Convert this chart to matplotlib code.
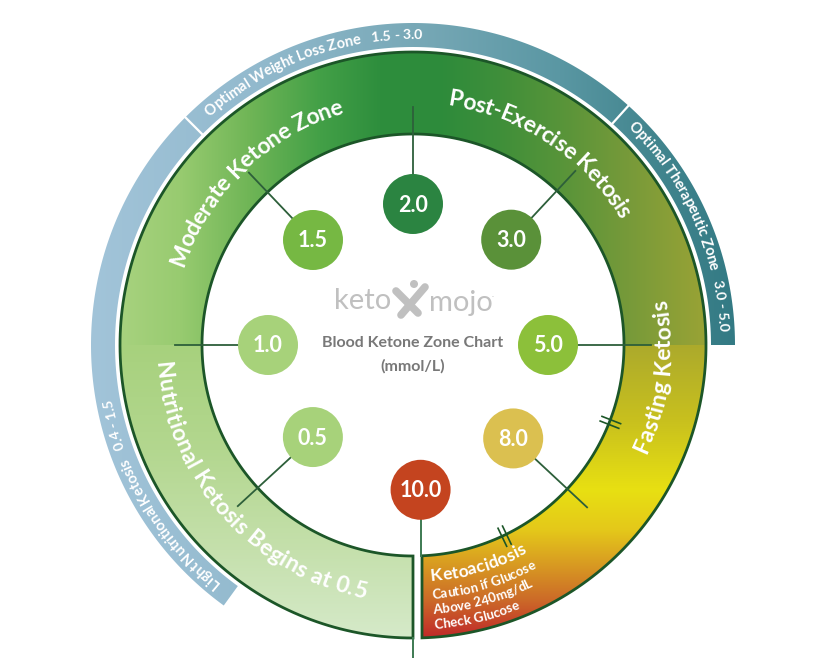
import numpy as np
import matplotlib
matplotlib.use("Agg")
import matplotlib.pyplot as plt
import matplotlib.colors as mcolors
from matplotlib.patches import Polygon, Circle
from matplotlib.font_manager import FontProperties
from matplotlib.textpath import text_to_path

W, H = 816, 658
CX, CY = 413, H - 345          # centre of the ring (data coords, y up)
R_IN, R_OUT = 211, 293         # main ring
B_IN, B_OUT = 298, 322         # outer blue band
DARK = "#1c5628"

# ---- chart content ----
levels = ["2.0", "1.5", "3.0", "1.0", "5.0", "0.5", "8.0", "10.0"]
level_angle = [90, 133.6, 47, 180, 0, 222.6, -43, -87]
level_radius = [141, 145, 144, 145, 135, 136, 137, 145]
level_color = ["#2b8441", "#76b843", "#5a9139", "#a7d27a",
               "#8cc03a", "#a7d27a", "#dbc050", "#c4441f"]

zones = ["Moderate Ketone Zone", "Post-Exercise Ketosis",
         "Fasting Ketosis", "Nutritional Ketosis Begins at 0.5"]
zone_angle = [134, 56.5, -7.5, 221.5]
zone_dir = ["cw", "cw", "ccw", "ccw"]

band_names = ["Optimal Weight Loss Zone", "Optimal Therapeutic Zone",
              "Light Nutritional Ketosis"]
band_ranges = ["1.5 - 3.0", "3.0 - 5.0", "0.4 - 1.5"]
band_angle = [110, 24, 210.5]
band_splits = [135, 48]

acid_lines = ["Ketoacidosis", "Caution if Glucose", "Above 240mg/dL", "Check Glucose"]
acid_radius = [231, 250, 265, 280]
acid_size = [12.5, 9.5, 9.5, 9.5]

break_marks = [-21.4, -64.4]

fig = plt.figure(figsize=(W / 100, H / 100), dpi=100)
ax = fig.add_axes([0, 0, 1, 1])
ax.set_xlim(0, W)
ax.set_ylim(0, H)
ax.axis("off")


def arc(r, a0, a1, n=300):
    t = np.radians(np.linspace(a0, a1, n))
    return np.column_stack([CX + r * np.cos(t), CY + r * np.sin(t)])


def sector(r0, r1, a0, a1, b0=None, b1=None):
    b0 = a0 if b0 is None else b0
    b1 = a1 if b1 is None else b1
    return np.vstack([arc(r1, a0, a1), arc(r0, b1, b0)])


def gradient(verts, pos, cols, axis, z=1):
    patch = Polygon(verts, closed=True, fc="none", ec="none")
    ax.add_patch(patch)
    rgb = np.array([mcolors.to_rgb(c) for c in cols])
    n = W if axis == "x" else H
    t = np.arange(n) + 0.5
    line = np.stack([np.interp(t, pos, rgb[:, k]) for k in range(3)], -1)
    img = line[None, :, :].repeat(2, 0) if axis == "x" else line[:, None, :].repeat(2, 1)
    im = ax.imshow(img, extent=[0, W, 0, H], origin="upper", aspect="auto",
                   interpolation="bilinear", zorder=z)
    im.set_clip_path(patch)


def adv(s, fp):
    if not s:
        return 0.0
    w1 = text_to_path.get_text_width_height_descent(s + "l", fp, ismath=False)[0]
    w0 = text_to_path.get_text_width_height_descent("l", fp, ismath=False)[0]
    return (w1 - w0) * 100 / 72


def curved(segments, r, ang, direction="cw", align="center", color="white"):
    # segments: list of (text, weight, size)
    items = []
    pos = 0.0
    size = max(s[2] for s in segments)
    for txt, weight, sz in segments:
        fp = FontProperties(family="Lato", weight=weight, size=sz)
        for i, ch in enumerate(txt):
            items.append((ch, fp, pos + (adv(txt[:i], fp) + adv(txt[:i + 1], fp)) / 2))
        pos += adv(txt, fp)
    sign = -1 if direction == "cw" else 1
    cap = 0.70 * size * 100 / 72
    rb = r - cap / 2 if direction == "cw" else r + cap / 2
    for ch, fp, off in items:
        if ch == " ":
            continue
        o = off - pos / 2 if align == "center" else off
        a = ang + sign * np.degrees(o / r)
        rot = a - 90 if direction == "cw" else a + 90
        ax.text(CX + rb * np.cos(np.radians(a)), CY + rb * np.sin(np.radians(a)), ch,
                fontproperties=fp, color=color, rotation=rot, rotation_mode="anchor",
                ha="center", va="baseline", zorder=6)


# ---- outer blue band ----
gradient(sector(B_IN, B_OUT, 0, 234),
         [90, 250, 420, 560, 650, 735],
         ["#a2c4d9", "#93bace", "#77a8b6", "#5a97a3", "#43868f", "#337a84"], "x")
for a in band_splits:
    p = arc(B_IN - 1, a, a, 2)[0], arc(B_OUT + 1, a, a, 2)[0]
    ax.plot([p[0][0], p[1][0]], [p[0][1], p[1][1]], color="white", lw=1.6, zorder=2)
for name, rng, a in zip(band_names, band_ranges, band_angle):
    curved([(name + "   ", "bold", 10.5), (rng, "bold", 10.2)],
           (B_IN + B_OUT) / 2 + 1, a, "cw")

# ---- main ring ----
a_out_r = -90 + np.degrees(np.arcsin(9 / R_OUT))
a_in_r = -90 + np.degrees(np.arcsin(9 / R_IN))

gradient(sector(R_IN, R_OUT, -0.5, 180.5),
         [119, 180, 250, 320, 380, 440, 500, 560, 620, 707],
         ["#a8d27f", "#98cb70", "#6fb556", "#43a047", "#2e8e3d",
          "#2d8b3b", "#3f8f3a", "#579439", "#73993a", "#9aa335"], "x")
gradient(sector(R_IN, R_OUT, 180, 270),
         [345, 450, 550, 640],
         ["#a7d17d", "#b3d78f", "#c5e0ac", "#d6eaca"], "y", z=1.1)
gradient(sector(R_IN, R_OUT, a_out_r, 0, a_in_r, 0),
         [345, 420, 490, 530, 565, 600, 637],
         ["#acaa2c", "#c8c01e", "#e8e012", "#e4c81a", "#d89a22", "#cc6a28", "#c02a2a"],
         "y", z=1.1)

outline = np.vstack([arc(R_OUT, a_out_r, 270), arc(R_IN, 270, a_in_r)])
ax.add_patch(Polygon(outline, closed=True, fc="none", ec=DARK, lw=2, zorder=3))

for a in break_marks:
    tx, ty = -np.sin(np.radians(a)), np.cos(np.radians(a))
    for s in (-2.5, 2.5):
        p0 = arc(R_IN - 9, a, a, 2)[0]
        p1 = arc(R_IN + 11, a, a, 2)[0]
        ax.plot([p0[0] + s * tx, p1[0] + s * tx], [p0[1] + s * ty, p1[1] + s * ty],
                color=DARK, lw=1.2, zorder=3)

for name, a, d in zip(zones, zone_angle, zone_dir):
    curved([(name, "bold", 16.5)], 250, a, d)

for txt, r, sz in zip(acid_lines, acid_radius, acid_size):
    curved([(txt, "bold", sz)], r, -85.7, "ccw", align="left")

# ---- level markers ----
for lab, a, r, c in zip(levels, level_angle, level_radius, level_color):
    x = CX + r * np.cos(np.radians(a))
    y = CY + r * np.sin(np.radians(a))
    if lab == "10.0":
        ax.plot([x, x], [y, CY - np.sqrt(R_IN ** 2 - (x - CX) ** 2)],
                color="#3d7a52", lw=1.4, zorder=4)
        ax.plot([CX, CX], [CY - R_OUT, 0], color="#3d7a52", lw=1.4, zorder=4)
    else:
        ex = CX + 238 * np.cos(np.radians(a))
        ey = CY + 238 * np.sin(np.radians(a))
        ax.plot([x, ex], [y, ey], color="#2d5f3a", lw=1.3, zorder=4)
    ax.add_patch(Circle((x, y), 30, fc=c, ec="none", zorder=5))
    ax.text(x, y - 1, lab, color="white", fontsize=15.5, fontweight="bold",
            family="Lato", ha="center", va="center", zorder=6)

# ---- centre logo and title ----
logo = "#c0c0c0"
ax.text(391, H - 301, "keto", color=logo, fontsize=21, family="Lato",
        fontweight="normal", ha="right", va="center")
ax.text(429, H - 303, "mojo", color=logo, fontsize=21, family="Lato",
        fontweight="normal", ha="left", va="center")
ax.text(492, H - 297, ".", color=logo, fontsize=6, family="Lato", ha="left")
ax.plot([396, 418], [H - 291, H - 313], color=logo, lw=5.5, solid_capstyle="round")
ax.plot([425, 401], [H - 287, H - 315], color=logo, lw=5.5, solid_capstyle="round")
ax.add_patch(Circle((414, H - 284), 4, fc=logo, ec="none"))
ax.text(413, H - 343, "Blood Ketone Zone Chart", color="#787878", fontsize=11.5,
        fontweight="bold", family="Lato", ha="center", va="center")
ax.text(413, H - 366, "(mmol/L)", color="#787878", fontsize=11.5,
        fontweight="bold", family="Lato", ha="center", va="center")

ax.set_xlim(0, W)
ax.set_ylim(0, H)
fig.savefig("out.png", dpi=100)
